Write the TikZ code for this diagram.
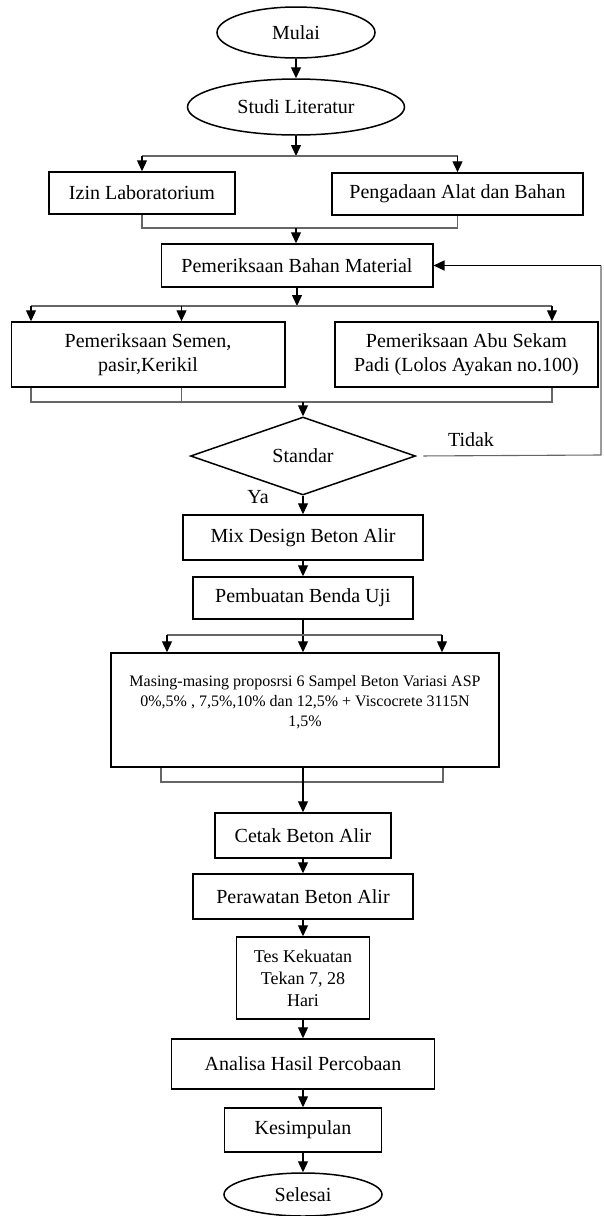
\documentclass[tikz,border=0pt]{standalone}
\usepackage{fontspec}
\setmainfont{Liberation Serif}
\usetikzlibrary{shapes.geometric,arrows.meta}
\newcommand\fsMain{\fontsize{20}{24}\selectfont}
\newcommand\fsSmall{\fontsize{16}{20}\selectfont}
\newcommand\fsMid{\fontsize{18}{22}\selectfont}
\tikzset{
  box/.style={draw, line width=1.5pt, rectangle, inner sep=0pt, align=center, font=\fsMain},
  oval/.style={draw, line width=1.5pt, ellipse, inner sep=0pt, font=\fsMain},
  dia/.style={draw, line width=1.5pt, diamond, inner sep=0pt, font=\fsMain},
  arr/.style={-{Triangle[length=11pt,width=10pt]}, line width=1.3pt},
  thinl/.style={draw=black!60, line width=1.1pt},
  lbl/.style={font=\fsMain, inner sep=0pt}
}
\begin{document}
\begin{tikzpicture}[x=1pt,y=-1pt]
\useasboundingbox (0,0) rectangle (603,1216);
% nodes
\node[oval, minimum width=158pt, minimum height=51pt] (mulai) at (296,32.5) {Mulai};
\node[oval, minimum width=217pt, minimum height=56pt] (studi) at (296,107) {Studi Literatur};
\node[box, minimum width=186pt, minimum height=42pt] (izin) at (142,193) {Izin Laboratorium};
\node[box, minimum width=251pt, minimum height=42pt] (pengadaan) at (457.5,194) {Pengadaan Alat dan Bahan};
\node[box, minimum width=271.5pt, minimum height=43pt] (bahan) at (297,265.5) {Pemeriksaan Bahan Material};
\node[box, minimum width=273.5pt, minimum height=65pt] (semen) at (148,354.5) {Pemeriksaan Semen,\\pasir,Kerikil};
\node[box, minimum width=263pt, minimum height=65pt] (abu) at (466.5,354.5) {Pemeriksaan Abu Sekam\\Padi (Lolos Ayakan no.100)};
\node[dia, minimum width=225pt, minimum height=78pt, aspect=2.88] (standar) at (303,456) {Standar};
\node[box, minimum width=240pt, minimum height=45pt] (mix) at (303,537.5) {Mix Design Beton Alir};
\node[box, minimum width=220pt, minimum height=42pt] (pembuatan) at (303,598) {Pembuatan Benda Uji};
\node[box, minimum width=388pt, minimum height=114pt] (masing) at (305,710) {};
\node[font=\fsSmall, align=center, inner sep=0pt] (masingtext) at (305,702) {Masing-masing proposrsi 6 Sampel Beton Variasi ASP\\0\%,5\% , 7,5\%,10\% dan 12,5\% + Viscocrete 3115N\\1,5\%};
\node[box, minimum width=176pt, minimum height=45pt] (cetak) at (303,835.5) {Cetak Beton Alir};
\node[box, minimum width=220pt, minimum height=45pt] (perawatan) at (303,896.5) {Perawatan Beton Alir};
\node[box, minimum width=133pt, minimum height=82pt, font=\fsMid] (tes) at (303,978) {Tes Kekuatan\\Tekan 7, 28\\Hari};
\node[box, minimum width=263pt, minimum height=50pt] (analisa) at (303,1064) {Analisa Hasil Percobaan};
\node[box, minimum width=157pt, minimum height=44pt] (kesimpulan) at (303,1130) {Kesimpulan};
\node[oval, minimum width=158pt, minimum height=43pt] (selesai) at (303,1194.5) {Selesai};
% labels
\node[lbl] (tidak) at (471,440) {Tidak};
\node[lbl] (ya) at (258,497) {Ya};
% coordinates
\coordinate (s1) at (296,156);
\coordinate (j1) at (296,228);
\coordinate (s2) at (297,306);
\coordinate (a1) at (31,306);
\coordinate (a2) at (181.5,306);
\coordinate (a3) at (552,306);
\coordinate (j2) at (303,402);
\coordinate (r1) at (601,455);
\coordinate (r2) at (601,265.5);
\coordinate (s3) at (303,635);
\coordinate (b1) at (167,635);
\coordinate (b2) at (442,635);
\coordinate (j3) at (303,782);
\coordinate (c1) at (161,782);
\coordinate (c2) at (443,782);
% connectors
\draw[arr] (mulai.south) -- (mulai.south |- studi.north);
\draw[arr] (studi.south) -- (s1);
\draw[thinl] (izin.north |- s1) -- (pengadaan.north |- s1);
\draw[arr] (izin.north |- s1) -- (izin.north);
\draw[arr] (pengadaan.north |- s1) -- (pengadaan.north);
\draw[thinl] (izin.south) -- (izin.south |- j1) -- (pengadaan.south |- j1) -- (pengadaan.south);
\draw[arr] (j1) -- (j1 |- bahan.north);
\draw[arr] (bahan.south) -- (s2);
\draw[thinl] (a1) -- (a3);
\draw[arr] (a1) -- (a1 |- semen.north);
\draw[arr] (a2) -- (a2 |- semen.north);
\draw[arr] (a3) -- (a3 |- abu.north);
\draw[thinl] (a1 |- semen.south) -- (a1 |- j2) -- (a3 |- j2) -- (a3 |- abu.south);
\draw[thinl] (a2 |- semen.south) -- (a2 |- j2);
\draw[arr] (j2) -- (standar.north);
\draw[arr] (standar.south) -- (mix.north);
\draw[thinl, shorten <=7pt] (standar.east) -- (r1) -- (r2);
\draw[arr] (r2) -- (bahan.east);
\draw[arr] (mix.south) -- (pembuatan.north);
\draw[arr] (pembuatan.south) -- (pembuatan.south |- masing.north);
\draw[thinl] (b1) -- (b2);
\draw[arr] (b1) -- (b1 |- masing.north);
\draw[arr] (b2) -- (b2 |- masing.north);
\draw[thinl] (c1 |- masing.south) -- (c1) -- (c2) -- (c2 |- masing.south);
\draw[arr] (cetak.north |- masing.south) -- (cetak.north);
\draw[arr] (cetak.south) -- (perawatan.north);
\draw[arr] (perawatan.south) -- (tes.north);
\draw[arr] (tes.south) -- (analisa.north);
\draw[arr] (analisa.south) -- (kesimpulan.north);
\draw[arr] (kesimpulan.south) -- (selesai.north);
\end{tikzpicture}
\end{document}
